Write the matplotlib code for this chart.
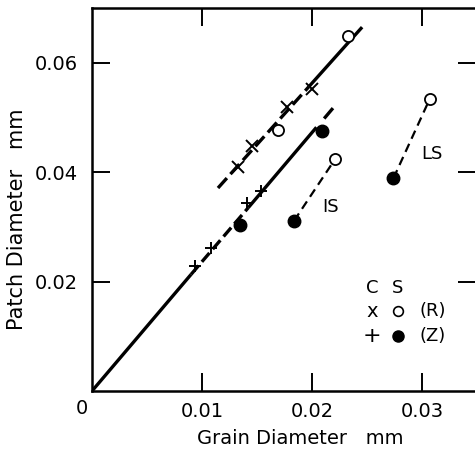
import numpy as np
import matplotlib
matplotlib.use("Agg")
import matplotlib.pyplot as plt
import matplotlib.transforms as mtransforms

plt.rcParams['font.family'] = ['DejaVu Sans']

# ---- data ----
# C (crosses): x = (R), + = (Z)
c_R_x = [0.01327, 0.01455, 0.01773, 0.0200]
c_R_y = [0.04095, 0.0448, 0.0519, 0.0552]
c_Z_x = [0.00936, 0.01082, 0.01409, 0.01536]
c_Z_y = [0.02285, 0.02614, 0.03437, 0.03656]
# S (circles): open = (R), filled = (Z)
s_R_x = [0.0169, 0.02327, 0.0221, 0.0307]
s_R_y = [0.0477, 0.0649, 0.0424, 0.0534]
s_Z_x = [0.01345, 0.0209, 0.01836, 0.0274]
s_Z_y = [0.0303, 0.0475, 0.0311, 0.0389]

# fitted lines (segment end points)
fit_Z_solid = [([0.0, 0.0090], [0.0, 0.0213]),
               ([0.0142, 0.0204], [0.0335, 0.0482]),
               ([0.0211, 0.0219], [0.0498, 0.0517])]
fit_Z_dashed = ([0.0090, 0.0142], [0.0213, 0.0335])
fit_R_dashed = ([0.01145, 0.0197], [0.0371, 0.0556])
fit_R_solid = ([0.0197, 0.02455], [0.0556, 0.0665])
IS_line = ([0.01836, 0.0221], [0.0311, 0.0424])
LS_line = ([0.0274, 0.0307], [0.0389, 0.0534])

xticks = [0.01, 0.02, 0.03]
xticklabels = ["0.01", "0.02", "0.03"]
yticks = [0.02, 0.04, 0.06]
yticklabels = ["0.02", "0.04", "0.06"]

W, H = 475, 449
fig = plt.figure(figsize=(W / 100, H / 100), dpi=100)
ax = fig.add_axes([92 / W, 1 - 391 / H, (476 - 92) / W, (391 - 8) / H])
ax.set_xlim(0, 0.0349)
ax.set_ylim(0, 0.07)

# lines
for xs, ys in fit_Z_solid:
    ax.plot(xs, ys, color='black', lw=2.4, solid_capstyle='butt')
ax.plot(*fit_Z_dashed, color='black', lw=2.4, dashes=(3.5, 1.5))
ax.plot(*fit_R_dashed, color='black', lw=2.4, dashes=(4, 1.6))
ax.plot(*fit_R_solid, color='black', lw=2.4, solid_capstyle='butt')
ax.plot(*IS_line, color='black', lw=1.6, dashes=(4, 2.5))
ax.plot(*LS_line, color='black', lw=1.6, dashes=(4, 2.5))

# markers
ax.plot(c_R_x, c_R_y, 'x', color='black', ms=9, mew=1.4, ls='none')
ax.plot(c_Z_x, c_Z_y, '+', color='black', ms=9, mew=1.4, ls='none')
ax.plot(s_R_x, s_R_y, 'o', mfc='white', mec='black', ms=8, mew=1.3, ls='none', zorder=5)
ax.plot(s_Z_x, s_Z_y, 'o', mfc='black', mec='black', ms=9, ls='none', zorder=5)

# labels on the plot
ax.text(0.02164, 0.0336, "IS", fontsize=13, ha='center', va='center')
ax.text(0.0309, 0.0433, "LS", fontsize=13, ha='center', va='center')

# in-plot key
ax.text(0.02545, 0.0188, "C", fontsize=13, ha='center', va='center')
ax.text(0.0278, 0.0188, "S", fontsize=13, ha='center', va='center')
ax.text(0.02545, 0.0146, "x", fontsize=14, ha='center', va='center')
ax.plot([0.0278], [0.0146], 'o', mfc='white', mec='black', ms=7, mew=1.2)
ax.text(0.0310, 0.0146, "(R)", fontsize=13, ha='center', va='center')
ax.text(0.02545, 0.0101, "+", fontsize=16, ha='center', va='center')
ax.plot([0.0278], [0.0101], 'o', mfc='black', mec='black', ms=8)
ax.text(0.0310, 0.0101, "(Z)", fontsize=13, ha='center', va='center')

# axes styling
for s in ['left', 'bottom', 'top', 'right']:
    ax.spines[s].set_linewidth(1.8)
ax.tick_params(which='both', direction='in', length=13, width=1.4,
               top=True, right=True, labelsize=14, pad=8)
ax.set_xticks(xticks)
ax.set_xticklabels(xticklabels)
ax.set_yticks(yticks)
ax.set_yticklabels(yticklabels)
ax.tick_params(axis='y', pad=10)

trans = mtransforms.blended_transform_factory(ax.transData, ax.transAxes)
ax.text(-0.0009, -0.045, "0", fontsize=14, ha='center', va='center', transform=trans)

fig.text(300 / W, 1 - 438 / H, "Grain Diameter   mm", fontsize=14, ha='center', va='center')
fig.text(17 / W, 1 - 219 / H, "Patch Diameter   mm", fontsize=15, ha='center', va='center',
         rotation=90)

fig.savefig("out.png", dpi=100)
